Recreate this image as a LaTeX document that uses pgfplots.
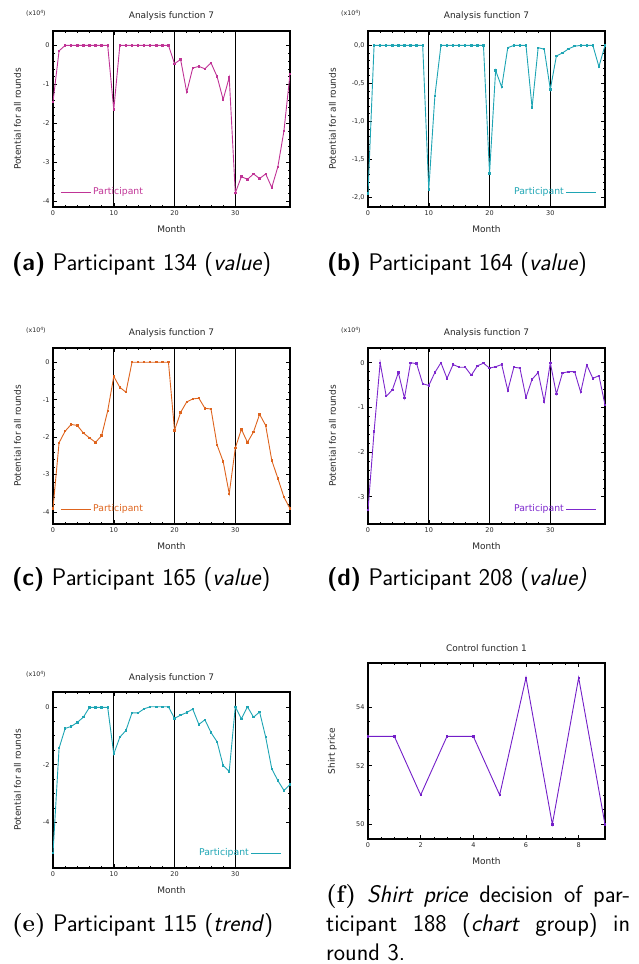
\documentclass[border=0pt]{standalone}
\usepackage{fontspec}
\usepackage{pgfplots}
\pgfplotsset{compat=1.18}
\newfontfamily\dejavu{DejaVu Sans}
\definecolor{cA}{RGB}{192,52,150}
\definecolor{cB}{RGB}{30,165,180}
\definecolor{cC}{RGB}{222,100,30}
\definecolor{cD}{RGB}{125,40,205}
\definecolor{cF}{RGB}{115,30,200}
\pgfplotsset{
 gp/.style={
  scale only axis, width=237pt, height=176pt, anchor=south west,
  clip mode=individual,
  tick align=inside, major tick length=4pt, minor tick length=2pt,
  axis line style={line width=1.1pt},
  tick style={line width=0.5pt, black},
  xmin=0, xmax=39, xtick={0,10,20,30}, minor x tick num=4,
  minor y tick num=4,
  tick label style={font=\dejavu\fontsize{6.5}{7}\selectfont, text=black!85},
  /pgf/number format/assume math mode=true,
  xlabel=Month, ylabel=Potential for all rounds,
  label style={font=\dejavu\fontsize{9}{10}\selectfont, text=black!85},
  xlabel style={at={(axis description cs:0.5,-0.125)}, anchor=center},
  ylabel style={at={(axis description cs:-0.15,0.5)}, anchor=center},
  xmajorgrids, major grid style={black, line width=0.9pt},
  legend style={draw=none, fill=none, font=\dejavu\fontsize{9.3}{10}\selectfont, inner sep=0pt},
  legend image code/.code={\draw[#1, mark=none] (0pt,0pt) -- (30pt,0pt);},
 },
 legL/.style={legend style={at={(axis description cs:0.03,0.085)}, anchor=west, text=#1}},
 legR/.style={legend plot pos=right, legend style={at={(axis description cs:0.966,0.085)}, anchor=east, text=#1}},
 ser/.style={#1, line width=0.9pt, mark=square*, mark size=0.7pt},
}
\newcommand{\xten}{\node[font=\dejavu\fontsize{6.3}{7}\selectfont, text=black!85] at (axis description cs:-0.072,1.102) {(x10\raisebox{0.55ex}{\fontsize{4.5}{5}\selectfont 4})};}
\newcommand{\ttl}[2][1.085]{\node[font=\dejavu\fontsize{9}{10}\selectfont, text=black!85, anchor=center] at (axis description cs:0.5,#1) {#2};}
\begin{document}
\begin{tikzpicture}
\useasboundingbox (0,0) rectangle (639pt,964pt);
% (a)
\begin{axis}[gp, at={(53pt,757pt)}, ymin=-4.15, ymax=0.37, ytick={-4,-3,-2,-1,0}, legL=cA]
\addplot[ser=cA] coordinates {(0,-1.45) (1,-0.14) (2,0) (3,0) (4,0) (5,0) (6,0) (7,0) (8,0) (9,0) (10,-1.65) (11,0) (12,0) (13,0) (14,0) (15,0) (16,0) (17,0) (18,0) (19,0) (20,-0.47) (21,-0.36) (22,-1.2) (23,-0.58) (24,-0.54) (25,-0.6) (26,-0.45) (27,-0.8) (28,-1.39) (29,-0.82) (30,-3.79) (31,-3.37) (32,-3.44) (33,-3.3) (34,-3.42) (35,-3.3) (36,-3.65) (37,-3.12) (38,-2.2) (39,-0.74)};
\addlegendentry{Participant}
\xten
\ttl{Analysis function 7}
\end{axis}
% (b)
\begin{axis}[gp, at={(368pt,757pt)}, ymin=-2.13, ymax=0.19, ytick={-2,-1.5,-1,-0.5,0}, legR=cB,
  yticklabel style={/pgf/number format/.cd, fixed, fixed zerofill, precision=1, use comma}]
\addplot[ser=cB] coordinates {(0,-1.95) (1,0) (2,0) (3,0) (4,0) (5,0) (6,0) (7,0) (8,0) (9,0) (10,-1.9) (11,-0.67) (12,0) (13,0) (14,0) (15,0) (16,0) (17,0) (18,0) (19,0) (20,-1.69) (21,-0.33) (22,-0.55) (23,-0.03) (24,0) (25,0) (26,0) (27,-0.82) (28,-0.03) (29,-0.05) (30,-0.58) (31,-0.14) (32,-0.1) (33,-0.045) (34,-0.01) (35,0) (36,0) (37,0) (38,-0.28) (39,0)};
\addlegendentry{Participant}
\xten
\ttl{Analysis function 7}
\end{axis}
% (c)
\begin{axis}[gp, at={(53pt,440pt)}, ymin=-4.32, ymax=0.38, ytick={-4,-3,-2,-1,0}, legL=cC]
\addplot[ser=cC] coordinates {(0,-3.9) (1,-2.15) (2,-1.84) (3,-1.66) (4,-1.69) (5,-1.89) (6,-2.02) (7,-2.14) (8,-1.96) (9,-1.3) (10,-0.38) (11,-0.67) (12,-0.8) (13,0) (14,0) (15,0) (16,0) (17,0) (18,0) (19,0) (20,-1.82) (21,-1.34) (22,-1.06) (23,-0.98) (24,-0.96) (25,-1.23) (26,-1.25) (27,-2.21) (28,-2.65) (29,-3.51) (30,-2.29) (31,-1.79) (32,-2.14) (33,-1.86) (34,-1.39) (35,-1.69) (36,-2.62) (37,-3.1) (38,-3.6) (39,-3.91)};
\addlegendentry{Participant}
\xten
\ttl{Analysis function 7}
\end{axis}
% (d)
\begin{axis}[gp, at={(368pt,440pt)}, ymin=-3.61, ymax=0.33, ytick={-3,-2,-1,0}, legR=cD]
\addplot[ser=cD] coordinates {(0,-3.3) (1,-1.54) (2,0) (3,-0.75) (4,-0.61) (5,-0.22) (6,-0.79) (7,0) (8,-0.02) (9,-0.47) (10,-0.51) (11,-0.22) (12,0) (13,-0.35) (14,-0.04) (15,-0.1) (16,-0.1) (17,-0.28) (18,-0.07) (19,-0.01) (20,-0.12) (21,-0.09) (22,-0.04) (23,-0.62) (24,-0.1) (25,-0.12) (26,-0.78) (27,-0.37) (28,-0.22) (29,-0.87) (30,0) (31,-0.7) (32,-0.23) (33,-0.2) (34,-0.2) (35,-0.66) (36,-0.05) (37,-0.35) (38,-0.29) (39,-0.94)};
\addlegendentry{Participant}
\xten
\ttl{Analysis function 7}
\end{axis}
% (e)
\begin{axis}[gp, at={(53pt,96pt)}, ymin=-5.57, ymax=0.51, ytick={-4,-2,0}, minor y tick num=3, legR=cB]
\addplot[ser=cB] coordinates {(0,-5.05) (1,-1.43) (2,-0.75) (3,-0.68) (4,-0.54) (5,-0.36) (6,-0.02) (7,-0.02) (8,-0.02) (9,-0.02) (10,-1.63) (11,-1.05) (12,-0.82) (13,-0.21) (14,-0.21) (15,-0.07) (16,0) (17,0) (18,0) (19,0) (20,-0.4) (21,-0.29) (22,-0.2) (23,-0.08) (24,-0.61) (25,-0.45) (26,-0.89) (27,-1.21) (28,-2.03) (29,-2.23) (30,0) (31,-0.42) (32,0) (33,-0.36) (34,-0.18) (35,-1.05) (36,-2.14) (37,-2.55) (38,-2.89) (39,-2.69)};
\addlegendentry{Participant}
\xten
\ttl[1.08]{Analysis function 7}
\end{axis}
% (f)
\begin{axis}[gp, at={(368pt,125pt)}, xmajorgrids=false, xmin=0, xmax=9, xtick={0,2,4,6,8}, minor x tick num=3,
  ymin=49.5, ymax=55.5, ytick={50,52,54}, minor y tick num=3, ylabel=Shirt price]
\addplot[ser=cF] coordinates {(0,53) (1,53) (2,51) (3,53) (4,53) (5,51) (6,55) (7,50) (8,55) (9,50)};
\ttl{Control function 1}
\end{axis}
% captions
\begin{scope}[every node/.style={anchor=base west, inner sep=0pt, font=\sffamily\fontsize{24}{29}\selectfont}]
\node at (12pt,693pt) {\textbf{(a)} Participant 134 (\textit{value})};
\node at (327pt,693pt) {\textbf{(b)} Participant 164 (\textit{value})};
\node at (12pt,378pt) {\textbf{(c)} Participant 165 (\textit{value})};
\node at (327pt,378pt) {\textbf{(d)} Participant 208 (\textit{value)}};
\node at (12pt,32pt) {\textrm{\textbf{(e)}} Participant 115 (\textit{trend})};
\node at (326pt,61pt) {\makebox[304pt][s]{\textrm{\textbf{(f)}} \textit{Shirt price} decision of par-}};
\node at (326pt,32pt) {\makebox[304pt][s]{ticipant 188 (\textit{chart} group) in}};
\node at (326pt,4pt) {round 3.};
\end{scope}
\end{tikzpicture}
\end{document}
